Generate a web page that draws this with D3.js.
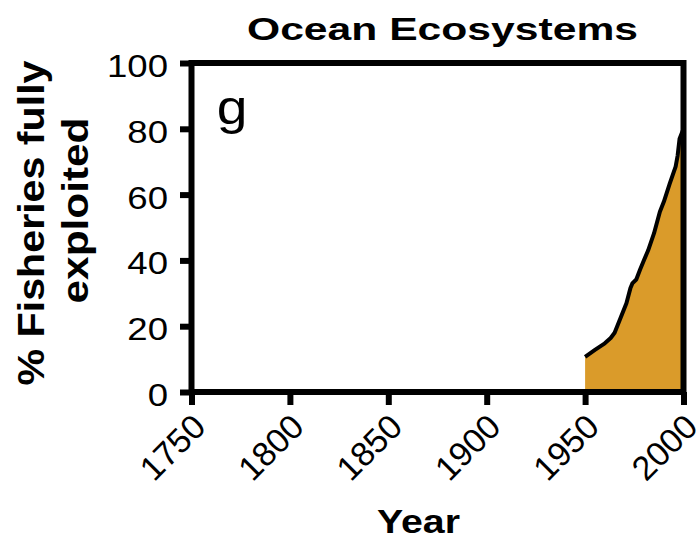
<!DOCTYPE html>
<html>
<head>
<meta charset="utf-8">
<script src="https://cdn.jsdelivr.net/npm/d3@7"></script>
<style>
  html, body { margin: 0; padding: 0; background: #fff; }
  svg { display: block; }
  text { font-family: "Liberation Sans", Arial, Helvetica, sans-serif; fill: #000; }
</style>
</head>
<body>
<svg id="chart" width="700" height="543"></svg>
<script>
// ---- data ----
const years  = [1950, 1955, 1960, 1963, 1965, 1968, 1971, 1973, 1974, 1976, 1978, 1980, 1982, 1985, 1988, 1990, 1993, 1996, 1997, 1998, 2000];
const values = [10.7, 12.8, 14.8, 16.4, 18.0, 22.5, 27.0, 31.5, 33.0, 34.2, 37.3, 40.2, 43.0, 48.2, 54.8, 57.8, 63.3, 68.5, 71.8, 77.0, 80.0];
const xTicks = [1750, 1800, 1850, 1900, 1950, 2000];
const yTicks = [0, 20, 40, 60, 80, 100];
const title = "Ocean Ecosystems";
const xLabel = "Year";
const yLabelLines = ["% Fisheries fully", "exploited"];
const panelLetter = "g";

const data = years.map((y, i) => ({ year: y, value: values[i] }));

const svg = d3.select("#chart");
const x = d3.scaleLinear().domain([1750, 2000]).range([191.5, 683.5]);
const y = d3.scaleLinear().domain([0, 100]).range([392, 63]);

// area
svg.append("path")
  .datum(data)
  .attr("fill", "#DA9B2A")
  .attr("d", d3.area().x(d => x(d.year)).y0(y(0)).y1(d => y(d.value)));

// line
svg.append("path")
  .datum(data)
  .attr("fill", "none")
  .attr("stroke", "#000")
  .attr("stroke-width", 4)
  .attr("stroke-linejoin", "round")
  .attr("d", d3.line().x(d => x(d.year)).y(d => y(d.value)));

// frame
svg.append("rect")
  .attr("x", x(1750)).attr("y", y(100))
  .attr("width", x(2000) - x(1750)).attr("height", y(0) - y(100))
  .attr("fill", "none").attr("stroke", "#000").attr("stroke-width", 6);

// y axis
const gy = svg.append("g").attr("transform", `translate(${x(1750)},0)`)
  .call(d3.axisLeft(y).tickValues(yTicks).tickSize(11.5).tickFormat(""));
gy.select(".domain").remove();
gy.selectAll(".tick line").attr("stroke", "#000").attr("stroke-width", 6);

svg.append("g").selectAll("text").data(yTicks).join("text")
  .attr("transform", d => `translate(168,${y(d) + 14}) scale(1.18,1)`)
  .attr("text-anchor", "end")
  .attr("font-size", 31)
  .text(d => d);

// x axis
const gx = svg.append("g").attr("transform", `translate(0,${y(0)})`)
  .call(d3.axisBottom(x).tickValues(xTicks).tickSize(13).tickFormat(""));
gx.select(".domain").remove();
gx.selectAll(".tick line").attr("stroke", "#000").attr("stroke-width", 6);

svg.append("g").selectAll("text").data(xTicks).join("text")
  .attr("transform", d => `translate(${x(d) + 16},429) rotate(-45)`)
  .attr("text-anchor", "end")
  .attr("font-size", 34)
  .text(d => d);

// title
svg.append("text")
  .attr("x", 442.5).attr("y", 40)
  .attr("text-anchor", "middle")
  .attr("font-size", 31).attr("font-weight", "bold")
  .attr("textLength", 391).attr("lengthAdjust", "spacingAndGlyphs")
  .text(title);

// x label
svg.append("text")
  .attr("x", 418.5).attr("y", 533)
  .attr("text-anchor", "middle")
  .attr("font-size", 34).attr("font-weight", "bold")
  .attr("textLength", 83).attr("lengthAdjust", "spacingAndGlyphs")
  .text(xLabel);

// y label
const yl = [{ t: yLabelLines[0], bx: 44, cy: 223, len: 325 }, { t: yLabelLines[1], bx: 88, cy: 210.5, len: 186 }];
svg.append("g").selectAll("text").data(yl).join("text")
  .attr("transform", d => `translate(${d.bx},${d.cy}) scale(1.1,1) rotate(-90)`)
  .attr("text-anchor", "middle")
  .attr("font-size", 33).attr("font-weight", "bold")
  .attr("textLength", d => d.len).attr("lengthAdjust", "spacingAndGlyphs")
  .text(d => d.t);

// panel letter
svg.append("text")
  .attr("transform", "translate(232,124) scale(1.15,1)")
  .attr("text-anchor", "middle")
  .attr("font-size", 48)
  .text(panelLetter);
</script>
</body>
</html>
